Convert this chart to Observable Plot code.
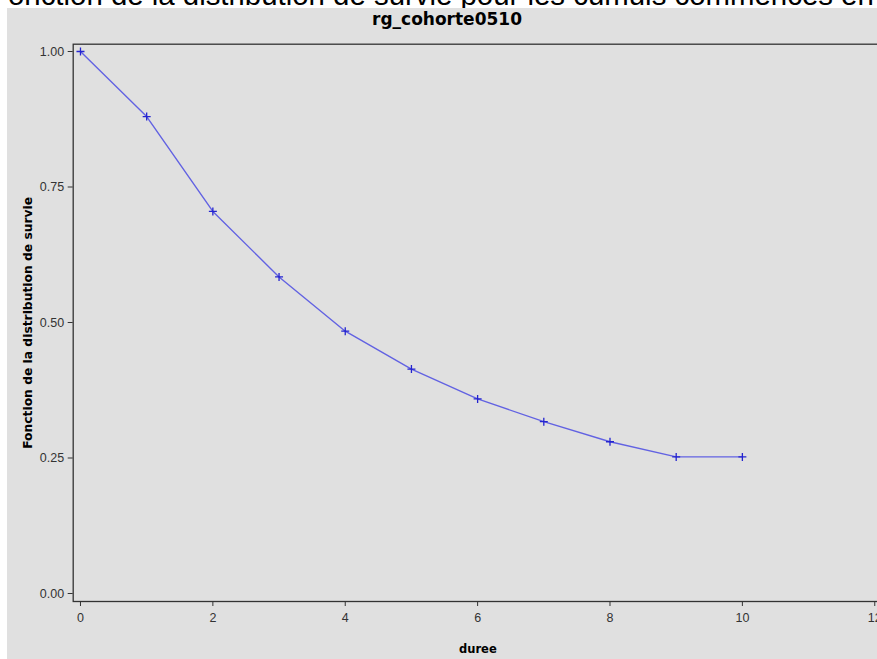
<!DOCTYPE html>
<html>
<head>
<meta charset="utf-8">
<script src="https://cdn.jsdelivr.net/npm/d3@7"></script>
<script src="https://cdn.jsdelivr.net/npm/@observablehq/plot@0.6"></script>
<style>
  html, body { margin: 0; padding: 0; background: #ffffff; width: 877px; height: 659px; overflow: hidden; }
  #topband { position: absolute; left: 0; top: 0; width: 877px; height: 8px; overflow: hidden; background: #fff; }
  #topband span { position: absolute; left: -10px; top: -20px; line-height: 30px; white-space: nowrap; font-family: "Liberation Sans", Arial, sans-serif; font-size: 29.4px; color: #000; }
  #panel { position: absolute; left: 7px; top: 8px; width: 870px; height: 651px; overflow: hidden; background: #e0e0e0; }
  #title { position: absolute; left: 0; top: 1px; width: 880px; text-align: center; font-family: "DejaVu Sans", sans-serif; font-weight: bold; font-size: 17px; line-height: 20px; color: #000; }
  #chart { position: absolute; left: 0; top: 0; width: 880px; }
  #chart svg { max-width: none !important; }
</style>
</head>
<body>
<div id="topband"><span id="supertitle"></span></div>
<div id="panel">
  <div id="chart"></div>
  <div id="title"></div>
</div>
<script>
const duree = [0, 1, 2, 3, 4, 5, 6, 7, 8, 9, 10];
const survie = [1.000, 0.880, 0.705, 0.584, 0.484, 0.414, 0.359, 0.317, 0.280, 0.252, 0.252];
const xTicks = [0, 2, 4, 6, 8, 10, 12];
const yTicks = [0, 0.25, 0.5, 0.75, 1];
const surtitre = "Fonction de la distribution de survie pour les cumuls commencés en";
const titre = "rg_cohorte0510";
const xLabel = "duree";
const yLabel = "Fonction de la distribution de survie";

document.getElementById("supertitle").textContent = surtitre;
document.getElementById("title").textContent = titre;

const data = duree.map((d, i) => ({duree: d, survie: survie[i]}));

const thinPlus = {
  draw(context, size) {
    const r = Math.sqrt(size / Math.PI);
    context.moveTo(-r, 0); context.lineTo(r, 0);
    context.moveTo(0, -r); context.lineTo(0, r);
  }
};

const tickFont = "Liberation Sans, Arial, sans-serif";

const chart = Plot.plot({
  width: 880,
  height: 651,
  marginLeft: 65.7,
  marginRight: 5,
  marginTop: 35.7,
  marginBottom: 58,
  style: {background: "transparent", fontFamily: "DejaVu Sans, sans-serif", fontSize: "11px", color: "#222", overflow: "visible", maxWidth: "none"},
  x: {domain: [-0.110, 12.117], label: null},
  y: {domain: [-0.01476, 1.01347], label: null},
  marks: [
    Plot.frame({stroke: "#333", strokeWidth: 1.3}),
    Plot.axisX({ticks: xTicks, tickSize: 5, tickPadding: 7, stroke: "#333", fill: "#333", fontSize: 12.5, fontFamily: tickFont}),
    Plot.axisY({ticks: yTicks, tickSize: 5, tickPadding: 4, tickFormat: d3.format(".2f"), stroke: "#333", fill: "#333", fontSize: 12.5, fontFamily: tickFont}),
    Plot.axisX({ticks: [], label: xLabel, labelAnchor: "center", labelArrow: "none", labelOffset: 51, fontWeight: "bold", fontSize: 11.5, fill: "#000"}),
    Plot.axisY({ticks: [], label: yLabel, labelAnchor: "center", labelArrow: "none", labelOffset: 50, fontWeight: "bold", fontSize: 12.3, fill: "#000"}),
    Plot.line(data, {x: "duree", y: "survie", stroke: "#6262e2", strokeWidth: 1.4}),
    Plot.dot(data, {x: "duree", y: "survie", symbol: thinPlus, r: 4, stroke: "#2424d0", strokeWidth: 1.3, fill: "none"})
  ]
});
chart.style.maxWidth = "none";
document.getElementById("chart").appendChild(chart);
</script>
</body>
</html>
